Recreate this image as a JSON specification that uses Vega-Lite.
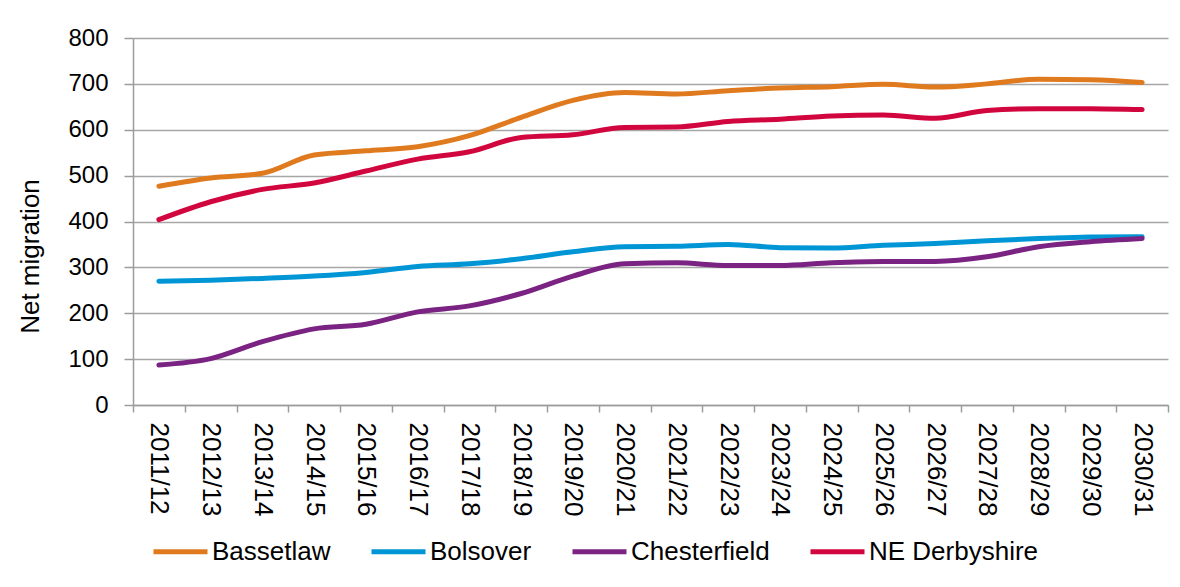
{
  "$schema": "https://vega.github.io/schema/vega-lite/v6.json",
  "width": 1035,
  "height": 367,
  "autosize": {"type": "none"},
  "padding": {"left": 133, "top": 38, "right": 12, "bottom": 182},
  "background": "white",
  "config": {
    "view": {"stroke": null},
    "font": "Liberation Sans",
    "axis": {"labelColor": "#000000", "titleColor": "#000000", "labelFont": "Liberation Sans", "titleFont": "Liberation Sans"},
    "legend": {"labelFont": "Liberation Sans"}
  },
  "datasets": {
    "d": [
      {"year": "2011/12", "area": "Bassetlaw", "value": 477},
      {"year": "2012/13", "area": "Bassetlaw", "value": 495},
      {"year": "2013/14", "area": "Bassetlaw", "value": 505},
      {"year": "2014/15", "area": "Bassetlaw", "value": 545},
      {"year": "2015/16", "area": "Bassetlaw", "value": 554},
      {"year": "2016/17", "area": "Bassetlaw", "value": 563},
      {"year": "2017/18", "area": "Bassetlaw", "value": 587},
      {"year": "2018/19", "area": "Bassetlaw", "value": 627},
      {"year": "2019/20", "area": "Bassetlaw", "value": 664},
      {"year": "2020/21", "area": "Bassetlaw", "value": 681},
      {"year": "2021/22", "area": "Bassetlaw", "value": 678},
      {"year": "2022/23", "area": "Bassetlaw", "value": 685},
      {"year": "2023/24", "area": "Bassetlaw", "value": 691},
      {"year": "2024/25", "area": "Bassetlaw", "value": 694},
      {"year": "2025/26", "area": "Bassetlaw", "value": 699},
      {"year": "2026/27", "area": "Bassetlaw", "value": 693},
      {"year": "2027/28", "area": "Bassetlaw", "value": 700},
      {"year": "2028/29", "area": "Bassetlaw", "value": 710},
      {"year": "2029/30", "area": "Bassetlaw", "value": 709},
      {"year": "2030/31", "area": "Bassetlaw", "value": 703},
      {"year": "2011/12", "area": "Bolsover", "value": 270},
      {"year": "2012/13", "area": "Bolsover", "value": 272},
      {"year": "2013/14", "area": "Bolsover", "value": 276},
      {"year": "2014/15", "area": "Bolsover", "value": 281},
      {"year": "2015/16", "area": "Bolsover", "value": 289},
      {"year": "2016/17", "area": "Bolsover", "value": 302},
      {"year": "2017/18", "area": "Bolsover", "value": 308},
      {"year": "2018/19", "area": "Bolsover", "value": 319},
      {"year": "2019/20", "area": "Bolsover", "value": 334},
      {"year": "2020/21", "area": "Bolsover", "value": 345},
      {"year": "2021/22", "area": "Bolsover", "value": 346},
      {"year": "2022/23", "area": "Bolsover", "value": 350},
      {"year": "2023/24", "area": "Bolsover", "value": 343},
      {"year": "2024/25", "area": "Bolsover", "value": 342},
      {"year": "2025/26", "area": "Bolsover", "value": 348},
      {"year": "2026/27", "area": "Bolsover", "value": 352},
      {"year": "2027/28", "area": "Bolsover", "value": 358},
      {"year": "2028/29", "area": "Bolsover", "value": 363},
      {"year": "2029/30", "area": "Bolsover", "value": 366},
      {"year": "2030/31", "area": "Bolsover", "value": 367},
      {"year": "2011/12", "area": "Chesterfield", "value": 87},
      {"year": "2012/13", "area": "Chesterfield", "value": 101},
      {"year": "2013/14", "area": "Chesterfield", "value": 138},
      {"year": "2014/15", "area": "Chesterfield", "value": 166},
      {"year": "2015/16", "area": "Chesterfield", "value": 176},
      {"year": "2016/17", "area": "Chesterfield", "value": 203},
      {"year": "2017/18", "area": "Chesterfield", "value": 216},
      {"year": "2018/19", "area": "Chesterfield", "value": 243},
      {"year": "2019/20", "area": "Chesterfield", "value": 281},
      {"year": "2020/21", "area": "Chesterfield", "value": 308},
      {"year": "2021/22", "area": "Chesterfield", "value": 310},
      {"year": "2022/23", "area": "Chesterfield", "value": 304},
      {"year": "2023/24", "area": "Chesterfield", "value": 304},
      {"year": "2024/25", "area": "Chesterfield", "value": 310},
      {"year": "2025/26", "area": "Chesterfield", "value": 313},
      {"year": "2026/27", "area": "Chesterfield", "value": 313},
      {"year": "2027/28", "area": "Chesterfield", "value": 323},
      {"year": "2028/29", "area": "Chesterfield", "value": 345},
      {"year": "2029/30", "area": "Chesterfield", "value": 356},
      {"year": "2030/31", "area": "Chesterfield", "value": 363},
      {"year": "2011/12", "area": "NE Derbyshire", "value": 404},
      {"year": "2012/13", "area": "NE Derbyshire", "value": 443},
      {"year": "2013/14", "area": "NE Derbyshire", "value": 470},
      {"year": "2014/15", "area": "NE Derbyshire", "value": 484},
      {"year": "2015/16", "area": "NE Derbyshire", "value": 510},
      {"year": "2016/17", "area": "NE Derbyshire", "value": 536},
      {"year": "2017/18", "area": "NE Derbyshire", "value": 552},
      {"year": "2018/19", "area": "NE Derbyshire", "value": 583},
      {"year": "2019/20", "area": "NE Derbyshire", "value": 589},
      {"year": "2020/21", "area": "NE Derbyshire", "value": 605},
      {"year": "2021/22", "area": "NE Derbyshire", "value": 606},
      {"year": "2022/23", "area": "NE Derbyshire", "value": 618},
      {"year": "2023/24", "area": "NE Derbyshire", "value": 623},
      {"year": "2024/25", "area": "NE Derbyshire", "value": 630},
      {"year": "2025/26", "area": "NE Derbyshire", "value": 632},
      {"year": "2026/27", "area": "NE Derbyshire", "value": 625},
      {"year": "2027/28", "area": "NE Derbyshire", "value": 642},
      {"year": "2028/29", "area": "NE Derbyshire", "value": 646},
      {"year": "2029/30", "area": "NE Derbyshire", "value": 646},
      {"year": "2030/31", "area": "NE Derbyshire", "value": 644}
    ]
  },
  "data": {"name": "d"},
  "mark": {"type": "line", "interpolate": "monotone", "strokeWidth": 5, "strokeCap": "round"},
  "encoding": {
    "x": {
      "field": "year",
      "type": "ordinal",
      "bandPosition": 0.5,
      "scale": {"type": "band", "paddingInner": 0, "paddingOuter": 0},
      "axis": {
        "title": null,
        "labelAngle": 90,
        "labelAlign": "left",
        "labelBaseline": "middle",
        "labelFontSize": 26,
        "labelPadding": 10,
        "tickBand": "extent",
        "tickSize": 7,
        "tickColor": "#9c9c9c",
        "domainColor": "#9c9c9c",
        "domainWidth": 1.5,
        "tickWidth": 1.5,
        "grid": false
      }
    },
    "y": {
      "field": "value",
      "type": "quantitative",
      "scale": {"domain": [0, 800], "nice": false},
      "axis": {
        "title": "Net migration",
        "titleFontSize": 26,
        "titleFontWeight": "normal",
        "titleAngle": -90,
        "titleAlign": "center",
        "titleBaseline": "middle",
        "titleX": -103,
        "titleY": 218,
        "values": [0, 100, 200, 300, 400, 500, 600, 700, 800],
        "labelFontSize": 24,
        "labelPadding": 16,
        "tickSize": 9,
        "tickColor": "#9c9c9c",
        "tickWidth": 1.5,
        "domainColor": "#9c9c9c",
        "domainWidth": 1.5,
        "grid": true,
        "gridColor": "#a6a6a6",
        "gridWidth": 1.5
      }
    },
    "color": {
      "field": "area",
      "type": "nominal",
      "scale": {
        "domain": ["Bassetlaw", "Bolsover", "Chesterfield", "NE Derbyshire"],
        "range": ["#E07A1F", "#0096D6", "#7A2382", "#D2063F"]
      },
      "legend": {
        "title": null,
        "orient": "none",
        "direction": "horizontal",
        "legendX": 18,
        "legendY": 484,
        "symbolType": "stroke",
        "symbolSize": 2916,
        "symbolStrokeWidth": 5,
        "labelFontSize": 26,
        "labelColor": "#000000",
        "labelOffset": 2,
        "columnPadding": 30,
        "padding": 0,
        "labelLimit": 400
      }
    }
  }
}
